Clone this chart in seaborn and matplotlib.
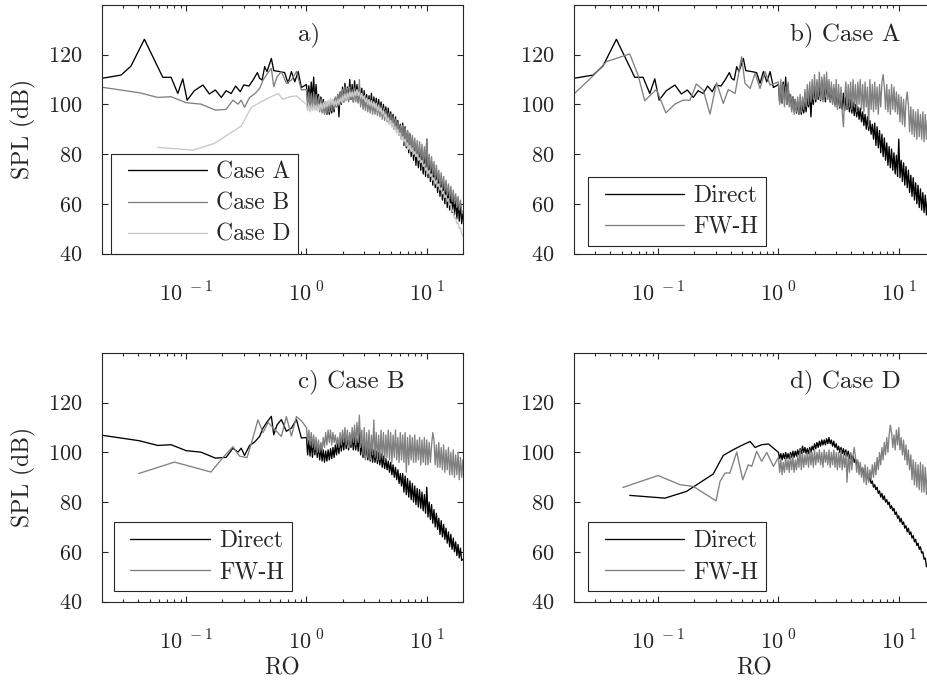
import numpy as np
import pandas as pd
import seaborn as sns
import matplotlib
matplotlib.use("Agg")
import matplotlib.pyplot as plt
from matplotlib.ticker import LogLocator, NullFormatter, FixedLocator, FixedFormatter
from matplotlib.lines import Line2D
from matplotlib.legend_handler import HandlerLine2D

# ---------------- data ----------------
# common abscissa (RO) for the dense high-frequency part of every spectrum
ro_hi = [1.000, 1.023, 1.047, 1.072, 1.096, 1.122, 1.148, 1.175, 1.202, 1.230,
         1.259, 1.288, 1.318, 1.349, 1.380, 1.413, 1.445, 1.479, 1.514, 1.549,
         1.585, 1.622, 1.660, 1.698, 1.738, 1.778, 1.820, 1.862, 1.905, 1.950,
         1.995, 2.042, 2.089, 2.138, 2.188, 2.239, 2.291, 2.344, 2.399, 2.455,
         2.512, 2.570, 2.630, 2.692, 2.754, 2.818, 2.884, 2.951, 3.020, 3.090,
         3.162, 3.236, 3.311, 3.388, 3.467, 3.548, 3.631, 3.715, 3.802, 3.890,
         3.981, 4.074, 4.169, 4.266, 4.365, 4.467, 4.571, 4.677, 4.786, 4.898,
         5.012, 5.129, 5.248, 5.370, 5.495, 5.623, 5.754, 5.888, 6.026, 6.166,
         6.310, 6.457, 6.607, 6.761, 6.918, 7.079, 7.244, 7.413, 7.586, 7.762,
         7.943, 8.128, 8.318, 8.511, 8.710, 8.913, 9.120, 9.333, 9.550, 9.772,
         10.00, 10.23, 10.47, 10.72, 10.96, 11.22, 11.48, 11.75, 12.02, 12.30,
         12.59, 12.88, 13.18, 13.49, 13.80, 14.13, 14.45, 14.79, 15.14, 15.49,
         15.85, 16.22, 16.60, 16.98, 17.38, 17.78, 18.20, 18.62, 19.05, 19.50,
         19.95]

# Case A, direct
caseA_ro_lo = [0.0200, 0.0288, 0.0348, 0.0450, 0.0640, 0.0750, 0.0853, 0.0938, 0.102, 0.117,
               0.138, 0.156, 0.175, 0.196, 0.215, 0.237, 0.258, 0.282, 0.301, 0.333,
               0.360, 0.391, 0.408, 0.428, 0.450, 0.470, 0.511, 0.535, 0.600, 0.659,
               0.703, 0.750, 0.800, 0.853, 0.908]
caseA_spl_lo = [110.5, 111.8, 115.4, 126.2, 110.9, 110.9, 104.4, 110.3, 101.7, 105.5,
                107.8, 104.2, 105.8, 102.8, 105.5, 104.4, 107.4, 105.1, 107.8, 107.4,
                109.8, 112.8, 110.5, 109.8, 115.2, 113.2, 118.5, 113.6, 113.2, 112.8,
                108.5, 113.2, 109.1, 113.2, 106.8]
caseA_spl_hi = [108, 101, 107.5, 100.5, 109, 102, 111, 100, 108, 101,
                104, 98, 103, 97.5, 102, 96.5, 101, 96, 100.5, 96,
                100, 96.5, 101, 97, 102.5, 99, 104, 95, 105, 100,
                107, 101, 108.5, 102, 107, 101.5, 110, 102, 108, 101,
                109.5, 102.5, 108, 101, 107, 100.5, 106.5, 100, 105.5, 99,
                104, 98.5, 103.5, 98, 104.5, 97.5, 103, 98, 102.5, 97,
                102, 96.5, 101, 95.5, 100, 95, 99, 94, 98.5, 93,
                97, 91.5, 96, 90, 95, 89.5, 93.5, 88, 92, 86,
                92.5, 83.5, 91, 82.5, 89.5, 80.5, 88, 79, 86.5, 77.5,
                84.5, 75.5, 83, 74.5, 82, 73.5, 80.5, 72, 79.5, 71,
                86, 70.5, 77.5, 69, 76.5, 67.5, 75, 66.5, 73.5, 64.5,
                71.5, 63, 70.5, 61.5, 68.5, 60, 67.5, 58.5, 66, 57.5,
                64.5, 56.5, 63.5, 55.5, 62.5, 54, 61, 53, 60.5, 52,
                56]

# Case A, FW-H
fwhA_ro_lo = [0.0198, 0.0287, 0.0372, 0.0581, 0.0681, 0.0774, 0.0968, 0.116, 0.138, 0.161,
              0.184, 0.208, 0.237, 0.270, 0.306, 0.348, 0.383, 0.436, 0.494, 0.527,
              0.581, 0.640, 0.703, 0.774, 0.853]
fwhA_spl_lo = [104.0, 111.4, 117.2, 120.3, 111.8, 101.5, 106.0, 96.6, 100.1, 101.7,
               101.7, 108.2, 105.8, 96.1, 108.7, 100.4, 106.0, 104.4, 119.2, 108.5,
               106.4, 112.5, 106.4, 113.2, 107.8]
fwhA_spl_hi = [109, 100, 110, 101, 108, 99, 107, 100, 109, 99,
               104, 97, 103, 96, 102, 97, 103, 96, 104, 97,
               103, 98, 106, 99, 108, 100, 109, 101, 110, 102,
               112, 102, 110, 103, 113, 102, 111, 101, 112, 103,
               113, 102, 110, 101, 109, 100, 108, 99, 110, 98,
               108, 99, 107, 97, 91, 102, 109, 98, 108, 99,
               109, 98, 110, 99, 108, 97, 109, 100, 110, 98,
               108, 97, 109, 99, 107, 91, 110, 98, 108, 97,
               109, 98, 107, 96, 108, 99, 109, 112, 107, 98,
               108, 97, 106, 96, 108, 98, 107, 97, 105, 96,
               104, 93, 103, 92, 102, 91, 101, 105, 100, 89,
               99, 88, 98, 87, 97, 86, 98, 87, 96, 86,
               97, 85, 96, 86, 95, 85, 96, 86, 95, 85,
               94]

# Case B, direct
caseB_ro_lo = [0.0200, 0.0408, 0.0581, 0.0750, 0.100, 0.133, 0.175, 0.215, 0.245, 0.270,
               0.287, 0.306, 0.337, 0.371, 0.408, 0.436, 0.470, 0.511, 0.535, 0.570,
               0.619, 0.681, 0.750, 0.826, 0.908]
caseB_spl_lo = [106.9, 104.7, 102.8, 103.1, 100.7, 100.1, 97.7, 98.0, 101.7, 100.1,
                101.7, 98.8, 102.8, 104.2, 106.4, 109.8, 112.2, 114.5, 107.1, 111.1,
                113.2, 108.5, 109.8, 113.2, 105.8]
caseB_spl_hi = [106, 99, 105, 98.5, 104.5, 98, 105, 99, 104, 98,
                103, 97, 102, 96.5, 101, 96, 100.5, 96.5, 101, 97,
                101.5, 97.5, 102, 98, 103, 99, 104, 99.5, 105, 100.5,
                106, 101, 107, 101.5, 106.5, 101, 107, 102, 106, 101,
                106.5, 101, 105.5, 100.5, 110, 99, 103.5, 98, 103, 97.5,
                102.5, 97, 102, 96.5, 101.5, 96, 101, 96, 100.5, 95.5,
                100, 95, 99.5, 94, 98.5, 93.5, 97.5, 93, 96.5, 92,
                96, 91, 95, 90, 94, 89, 93, 87.5, 91.5, 86.5,
                91.5, 84, 90.5, 83, 89.5, 82, 88.5, 81, 87.5, 80,
                86.5, 79, 85.5, 78, 85, 77.5, 84, 76.5, 83, 75.5,
                86, 74, 80, 73, 79, 71.5, 77, 70, 75.5, 69,
                73.5, 67, 72.5, 66, 71, 65, 69.5, 63.5, 68, 62,
                67, 61, 65.5, 60, 64, 58.5, 63, 57.5, 61.5, 56.5,
                57]

# Case B, FW-H
fwhB_ro_lo = [0.0404, 0.080, 0.161, 0.202, 0.245, 0.278, 0.321, 0.360, 0.395, 0.436,
              0.480, 0.544, 0.619, 0.681, 0.750, 0.826, 0.908]
fwhB_spl_lo = [91.5, 96.1, 92.1, 97.9, 102.3, 98.5, 97.9, 106.0, 113.1, 108.0,
               112.0, 109.3, 106.4, 114.4, 106.6, 114.4, 112.7]
fwhB_spl_hi = [110, 104, 109, 103, 108, 102, 107, 101, 106, 100,
               105, 100, 104, 101, 106, 102, 108, 103, 109, 104,
               109, 103, 108, 104, 107, 103, 106, 102, 108, 103,
               109, 104, 110, 103, 109, 102, 108, 103, 110, 104,
               111, 103, 112, 104, 115, 102, 109, 99, 110, 97,
               108, 98, 109, 97, 107, 99, 113, 98, 108, 97,
               107, 97, 109, 98, 108, 96, 107, 98, 109, 97,
               108, 96, 107, 98, 109, 97, 106, 96, 108, 97,
               107, 96, 108, 92, 106, 95, 107, 97, 106, 96,
               107, 96, 105, 97, 106, 95, 105, 96, 106, 95,
               105, 95, 104, 96, 103, 108, 105, 95, 103, 94,
               104, 94, 102, 93, 103, 92, 101, 93, 102, 91,
               100, 91, 101, 90, 99, 91, 100, 89, 98, 90,
               97]

# Case D, direct
caseD_ro_lo = [0.0581, 0.114, 0.172, 0.230, 0.287, 0.348, 0.422, 0.494, 0.581, 0.640,
               0.726, 0.826, 0.938]
caseD_spl_lo = [82.7, 81.6, 84.3, 88.3, 91.3, 98.8, 101.1, 102.8, 104.4, 102.0,
                103.1, 103.4, 101.1]
caseD_spl_hi = [100, 97.5, 99.5, 97, 99.5, 97.5, 100, 97.5, 99.5, 97.5,
                100, 98, 100.5, 98, 100.5, 98.5, 101, 99, 101.5, 99.5,
                102.5, 100, 102, 99.5, 101.5, 99.5, 102, 100, 102.5, 101,
                103.5, 101.5, 104, 102, 104.5, 102.5, 105, 103, 105, 103,
                105.5, 103.5, 106, 103.5, 105, 102.5, 104.5, 102, 103.5, 101,
                102.5, 100, 102, 99.5, 101.5, 99, 101, 98.5, 100.5, 97.5,
                99.5, 97, 98.5, 96, 97.5, 95, 96, 93.5, 94.5, 92,
                93.5, 91, 92.5, 90, 91, 88.5, 90, 87.5, 88.5, 86,
                87, 85, 86, 83.5, 84.5, 82, 83.5, 81, 82.5, 80,
                81, 79, 80, 77.5, 78.5, 76.5, 77.5, 75, 76, 73.5,
                74.5, 72, 73.5, 71, 72, 69.5, 70.5, 68, 69.5, 67,
                68, 65.5, 66.5, 64, 65, 62.5, 63.5, 61, 62, 59.5,
                60, 57, 57.5, 54, 54.5, 52, 52.5, 50, 50.5, 48,
                47]

# Case D, FW-H
fwhD_ro_lo = [0.0510, 0.100, 0.152, 0.196, 0.303, 0.327, 0.360, 0.395, 0.450, 0.505,
              0.562, 0.600, 0.659, 0.726, 0.800, 0.908]
fwhD_spl_lo = [85.9, 90.7, 87.0, 86.3, 80.5, 88.3, 91.7, 91.7, 100.1, 89.0,
               95.0, 94.4, 100.4, 96.4, 100.0, 94.4]
fwhD_spl_hi = [98, 92, 97, 91, 96, 92, 98, 93, 97, 92,
               99, 93, 98, 92, 97, 93, 99, 94, 101, 93,
               100, 94, 99, 95, 100, 94, 101, 95, 100, 94,
               101, 95, 100, 96, 101, 95, 100, 94, 101, 96,
               100, 95, 101, 94, 100, 95, 101, 94, 100, 93,
               100, 94, 101, 93, 99, 94, 100, 88, 99, 92,
               100, 93, 99, 102, 98, 92, 97, 91, 96, 90,
               94, 88, 95, 87, 94, 88, 93, 89, 95, 90,
               96, 91, 98, 93, 100, 95, 102, 97, 104, 99,
               106, 100, 107, 111, 108, 102, 107, 101, 109, 103,
               110, 101, 106, 99, 105, 97, 103, 95, 101, 93,
               99, 89, 97, 87, 96, 86, 95, 85, 96, 84,
               95, 84, 94, 83, 93, 84, 92, 83, 91, 82,
               90]

panel_titles = ["a)", "b) Case A", "c) Case B", "d) Case D"]
y_ticks = [40, 60, 80, 100, 120]
x_ticks = [0.1, 1, 10]
x_tick_labels = [r"$10^{\ -1}$", r"$10^{\ 0}$", r"$10^{\ 1}$"]


def series(ro_lo, spl_lo, spl_hi):
    n = min(len(ro_hi), len(spl_hi))
    return pd.DataFrame({"RO": list(ro_lo) + ro_hi[:n],
                         "SPL": list(spl_lo) + list(spl_hi[:n])})


caseA = series(caseA_ro_lo, caseA_spl_lo, caseA_spl_hi)
caseB = series(caseB_ro_lo, caseB_spl_lo, caseB_spl_hi)
caseD = series(caseD_ro_lo, caseD_spl_lo, caseD_spl_hi)
fwhA = series(fwhA_ro_lo, fwhA_spl_lo, fwhA_spl_hi)
fwhB = series(fwhB_ro_lo, fwhB_spl_lo, fwhB_spl_hi)
fwhD = series(fwhD_ro_lo, fwhD_spl_lo, fwhD_spl_hi)

# ---------------- style ----------------
sns.set_style("ticks")
plt.rcParams["font.family"] = ["cmr10", "DejaVu Serif"]
plt.rcParams["mathtext.fontset"] = "cm"
plt.rcParams["axes.formatter.use_mathtext"] = True
plt.rcParams["axes.unicode_minus"] = False
FS_TICK = 16
FS_LAB = 17
FS_LEG = 17
FS_TITLE = 18

INK = "#262626"
BLACK = "#000000"
GRAY = "#808080"
LIGHT = "#c8c8c8"
LW = 0.95

fig = plt.figure(figsize=(9.27, 6.82), dpi=100)
W, H = 927.0, 682.0
boxes = [(102, 5), (574, 5), (102, 353), (574, 353)]
axes = []
for (l, t) in boxes:
    ax = fig.add_axes([l / W, (H - (t + 248.5)) / H, 361 / W, 248.5 / H])
    axes.append(ax)

plot_sets = [
    [(caseA, BLACK, "Case A"), (caseB, GRAY, "Case B"), (caseD, LIGHT, "Case D")],
    [(caseA, BLACK, "Direct"), (fwhA, GRAY, "FW-H")],
    [(caseB, BLACK, "Direct"), (fwhB, GRAY, "FW-H")],
    [(caseD, BLACK, "Direct"), (fwhD, GRAY, "FW-H")],
]
title_pos = [(0.543, 0.88), (0.598, 0.88), (0.543, 0.884), (0.598, 0.884)]
legend_anchor = [(0.025, 0.0), (0.039, 0.032), (0.033, 0.044), (0.039, 0.044)]

for i, ax in enumerate(axes):
    handles = []
    for df, col, lab in plot_sets[i]:
        sns.lineplot(data=df, x="RO", y="SPL", ax=ax, color=col, lw=LW,
                     estimator=None, sort=False, legend=False)
        handles.append(Line2D([], [], color=col, lw=LW, label=lab))
    ax.set_xscale("log")
    ax.set_xlim(0.02, 20)
    ax.set_ylim(40, 140)
    ax.xaxis.set_major_locator(FixedLocator(x_ticks))
    ax.xaxis.set_major_formatter(FixedFormatter(x_tick_labels))
    ax.xaxis.set_minor_locator(LogLocator(base=10, subs=np.arange(2, 10), numticks=20))
    ax.xaxis.set_minor_formatter(NullFormatter())
    ax.set_yticks(y_ticks)
    ax.tick_params(which="both", direction="in", top=True, right=True,
                   labelsize=FS_TICK, width=0.8, colors=INK, labelcolor=INK)
    ax.tick_params(which="major", length=4.5)
    ax.tick_params(which="minor", length=2.5)
    ax.tick_params(axis="x", pad=20)
    ax.tick_params(axis="y", pad=14)
    for s in ax.spines.values():
        s.set_linewidth(0.8)
        s.set_color(INK)
    ax.set_xlabel("RO" if i >= 2 else "", fontsize=FS_LAB, color=INK, labelpad=3)
    ax.set_ylabel("SPL (dB)" if i % 2 == 0 else "", fontsize=FS_LAB, color=INK, labelpad=9)
    ax.text(title_pos[i][0], title_pos[i][1], panel_titles[i], transform=ax.transAxes,
            ha="left", va="center", fontsize=FS_TITLE, color=INK)
    leg = ax.legend(handles=handles, loc="lower left", bbox_to_anchor=legend_anchor[i],
                    borderaxespad=0, fontsize=FS_LEG, frameon=True, fancybox=False,
                    framealpha=1, edgecolor=INK, handlelength=3.75,
                    handletextpad=0.38, labelspacing=0.38, borderpad=0.32,
                    handler_map={Line2D: HandlerLine2D(xpad=0.38)})
    leg.get_frame().set_linewidth(0.8)
    for t in leg.get_texts():
        t.set_color(INK)

fig.savefig("out.png", dpi=100)
